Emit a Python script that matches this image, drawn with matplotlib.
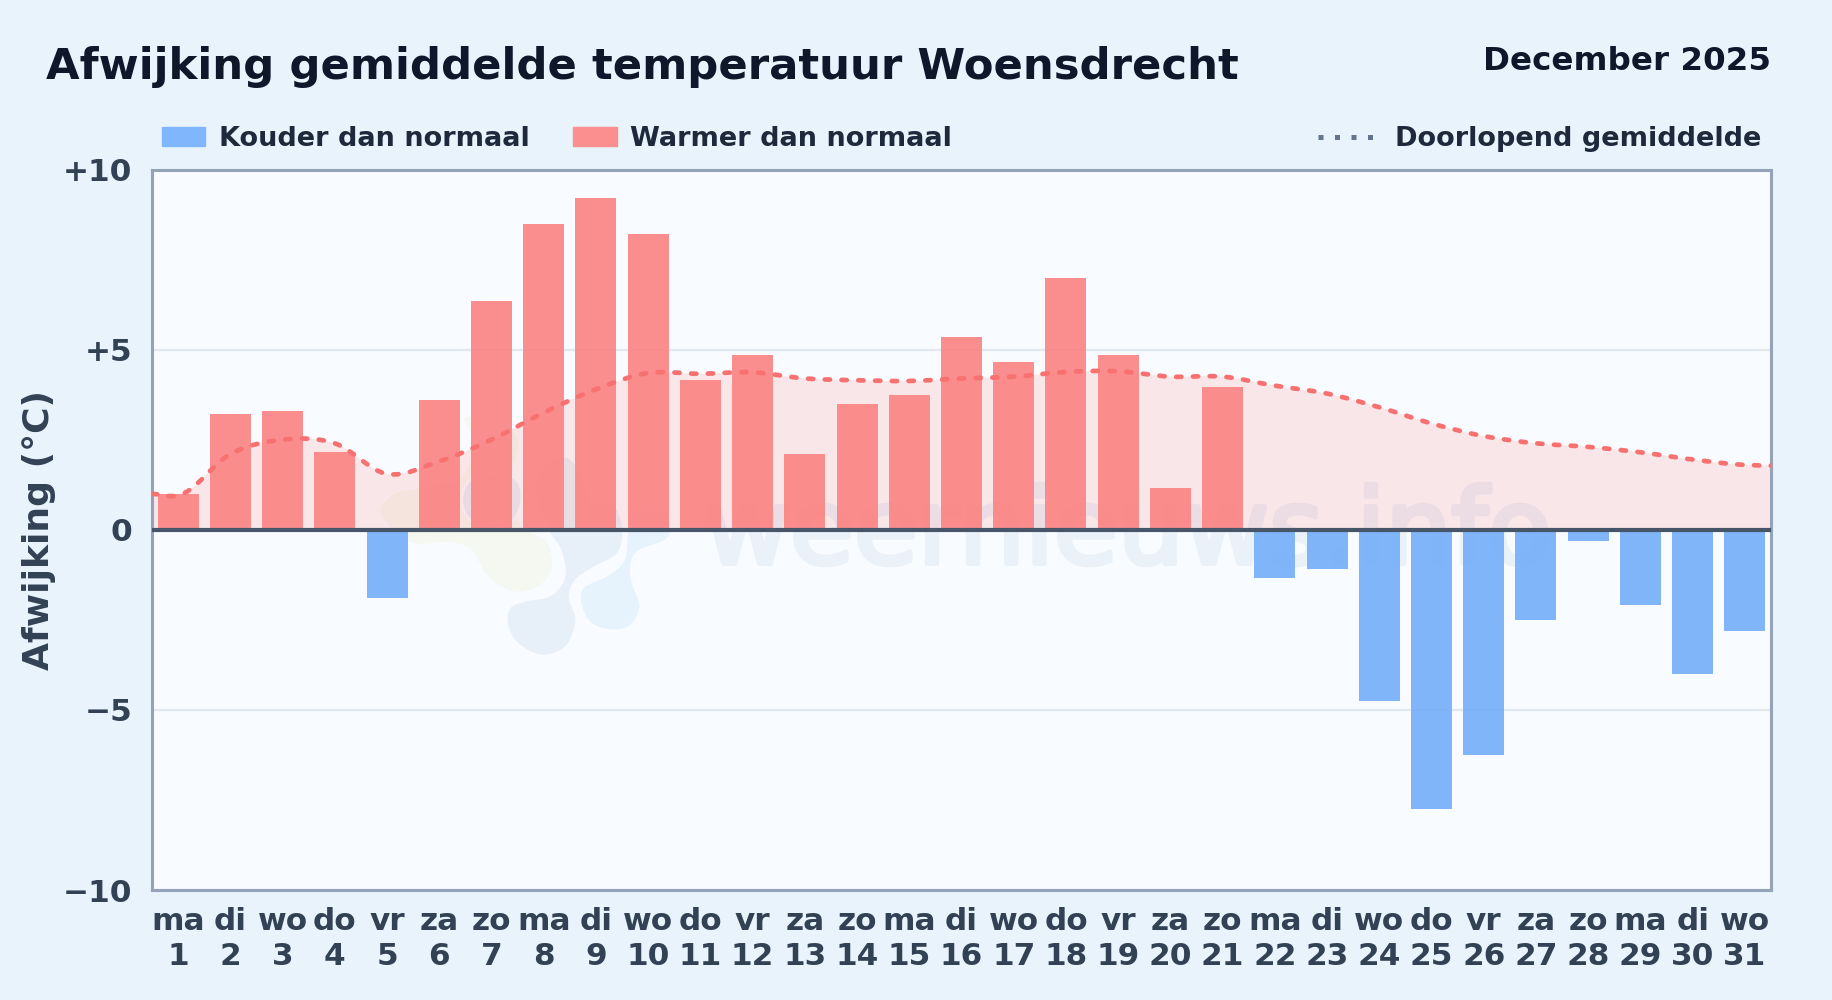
import matplotlib
matplotlib.use("Agg")
import matplotlib.patheffects as pe
import matplotlib.pyplot as plt
import numpy as np
from matplotlib.lines import Line2D
from matplotlib.patches import Patch, PathPatch
from matplotlib.path import Path

weekdays = ["ma", "di", "wo", "do", "vr", "za", "zo"] * 4 + ["ma", "di", "wo"]
days = list(range(1, 32))
anomaly = [0.99, 3.2, 3.3, 2.15, -1.9, 3.6, 6.35, 8.5, 9.2, 8.2, 4.15, 4.85, 2.1, 3.5, 3.75, 5.35,
           4.65, 7.0, 4.85, 1.15, 3.95, -1.35, -1.1, -4.75, -7.75, -6.25, -2.5, -0.3, -2.1, -4.0, -2.8]
running_x = [0.5] + days + [31.5]
running_mean = [1.0, 0.95, 2.1, 2.5, 2.4, 1.55, 1.9, 2.5, 3.25, 3.9, 4.35, 4.33, 4.37, 4.2, 4.15, 4.13,
                4.2, 4.25, 4.38, 4.4, 4.25, 4.25, 4.0, 3.78, 3.4, 2.95, 2.6, 2.4, 2.3, 2.15, 1.95, 1.8, 1.78]
y_ticks = [-10, -5, 0, 5, 10]
y_labels = ["\u221210", "\u22125", "0", "+5", "+10"]

BG = "#e8f3fc"
PLOT_BG = "#f8fbff"
COLD = "#80b6fb"
WARM = "#fb8e8e"
LINE = "#f87171"

# watermark logo outlines, in crop coordinates of the logo area
logo_green = [(60, 340), (100, 280), (180, 260), (300, 230), (335, 120), (310, 50), (420, 60), (480, 130), (450, 240),
              (480, 370), (560, 420), (580, 500), (540, 560), (460, 578), (380, 530), (330, 450), (260, 430), (150, 430)]
logo_dark = [(440, 670), (450, 620), (500, 600), (570, 585), (612, 530), (600, 450), (565, 395), (530, 300), (540, 210),
             (620, 170), (670, 230), (690, 300), (760, 310), (790, 380), (775, 460), (700, 505), (650, 540), (630, 590),
             (650, 660), (620, 740), (545, 768), (470, 730)]
logo_grey = [(305, 300), (330, 240), (400, 220), (470, 240), (485, 300), (460, 360), (400, 385), (330, 360)]
logo_light = [(660, 610), (670, 560), (740, 525), (790, 480), (800, 400), (810, 340), (880, 330), (930, 370), (920, 420),
              (830, 460), (815, 530), (842, 620), (810, 680), (750, 692), (690, 670)]


def smooth_path(x, y):
    # catmull-rom through the points, drawn as bezier segments
    x = np.array(x, float)
    y = np.array(y, float)
    dy = np.gradient(y, x)
    verts = [(x[0], y[0])]
    codes = [Path.MOVETO]
    for i in range(len(x) - 1):
        h = (x[i + 1] - x[i]) / 3
        verts += [(x[i] + h, y[i] + dy[i] * h), (x[i + 1] - h, y[i + 1] - dy[i + 1] * h), (x[i + 1], y[i + 1])]
        codes += [Path.CURVE4] * 3
    return verts, codes


def logo_patch(points, color):
    # closed blob in pixel coordinates
    pts = np.array([(360 + px / 3, 1000 - (400 + py / 3)) for px, py in points])
    n = len(pts)
    verts = [tuple(pts[0])]
    codes = [Path.MOVETO]
    for i in range(n):
        p0, p1, p2, p3 = pts[i - 1], pts[i], pts[(i + 1) % n], pts[(i + 2) % n]
        verts += [tuple(p1 + (p2 - p0) / 6), tuple(p2 - (p3 - p1) / 6), tuple(p2)]
        codes += [Path.CURVE4] * 3
    return PathPatch(Path(verts, codes), transform=None, facecolor=color, edgecolor=PLOT_BG, linewidth=2, zorder=0.5)


plt.rcParams["font.family"] = "DejaVu Sans"
plt.rcParams["font.weight"] = "bold"

fig = plt.figure(figsize=(18.32, 10), dpi=100, facecolor=BG)
ax = fig.add_axes([152 / 1832, 1 - 890 / 1000, (1771 - 152) / 1832, (890 - 169.5) / 1000], facecolor=PLOT_BG)

for outline, col in [(logo_green, "#f5f8f1"), (logo_dark, "#e7f0f8"), (logo_grey, "#e7eef6"), (logo_light, "#e6f3fd")]:
    ax.add_patch(logo_patch(outline, col))
wm = ax.text(1128 / 1832, 1 - 535 / 1000, "weernieuws.info", transform=fig.transFigure, fontsize=75, fontweight="normal",
             color="#eaf1f9", ha="center", va="center", zorder=0.8)
wm.set_path_effects([pe.withStroke(linewidth=3.5, foreground="#eaf1f9")])

ax.yaxis.grid(True, color="#e2e8f0", linewidth=1.6, zorder=1)
ax.set_axisbelow(True)

verts, codes = smooth_path(running_x, running_mean)
fill_verts = verts + [(running_x[-1], 0), (running_x[0], 0), verts[0]]
fill_codes = codes + [Path.LINETO, Path.LINETO, Path.LINETO]
ax.add_patch(PathPatch(Path(fill_verts, fill_codes), facecolor=LINE, alpha=0.15, edgecolor="none", zorder=2))

colors = ["#fb8282" if v >= 0 else "#73aefa" for v in anomaly]
ax.bar(days, anomaly, width=0.785, color=colors, alpha=0.9, linewidth=0, zorder=3)
ax.add_patch(PathPatch(Path(verts, codes), facecolor="none", edgecolor=LINE, linewidth=3.4,
                       linestyle=(0, (1.1, 2.45)), capstyle="round", zorder=4))
ax.axhline(0, color="#475569", linewidth=3, zorder=5)

ax.set_xlim(0.5, 31.5)
ax.set_ylim(-10, 10)
ax.set_yticks(y_ticks, y_labels)
ax.set_xticks(days, [f"{w}\n{d}" for w, d in zip(weekdays, days)])
ax.tick_params(axis="both", length=0, labelcolor="#334155", labelsize=22.4)
ax.tick_params(axis="x", pad=12)
ax.tick_params(axis="y", pad=14)
for label in ax.get_xticklabels():
    label.set_linespacing(1.28)
for s in ax.spines.values():
    s.set_color("#94a3b8")
    s.set_linewidth(2.2)
fig.text(39 / 1832, 1 - 530 / 1000, "Afwijking (\u00b0C)", rotation=90, fontsize=26, color="#334155", ha="center", va="center")

fig.text(46.5 / 1832, 1 - 67 / 1000, "Afwijking gemiddelde temperatuur Woensdrecht", fontsize=31.2, color="#0f172a", va="center")
fig.text(1771 / 1832, 1 - 62 / 1000, "December 2025", fontsize=23.4, color="#0f172a", ha="right", va="center")

legend_cold_warm = [Patch(color=COLD, label="Kouder dan normaal"), Patch(color=WARM, label="Warmer dan normaal")]
fig.legend(handles=legend_cold_warm, loc="center left", bbox_to_anchor=(162 / 1832, 1 - 139 / 1000), ncol=2,
           frameon=False, fontsize=19.55, labelcolor="#1e293b", borderpad=0, borderaxespad=0,
           handlelength=1.6, handleheight=0.72, handletextpad=0.5, columnspacing=1.6)
running_handle = Line2D([], [], color="#64748b", linewidth=3.6, linestyle=(0, (1, 2.3)), label="Doorlopend gemiddelde")
fig.legend(handles=[running_handle], loc="center right", bbox_to_anchor=(1761 / 1832, 1 - 139 / 1000),
           frameon=False, fontsize=19.5, labelcolor="#1e293b", borderpad=0, borderaxespad=0,
           handlelength=2.03, handletextpad=0.8)

fig.savefig("out.png", dpi=100, facecolor=BG)
